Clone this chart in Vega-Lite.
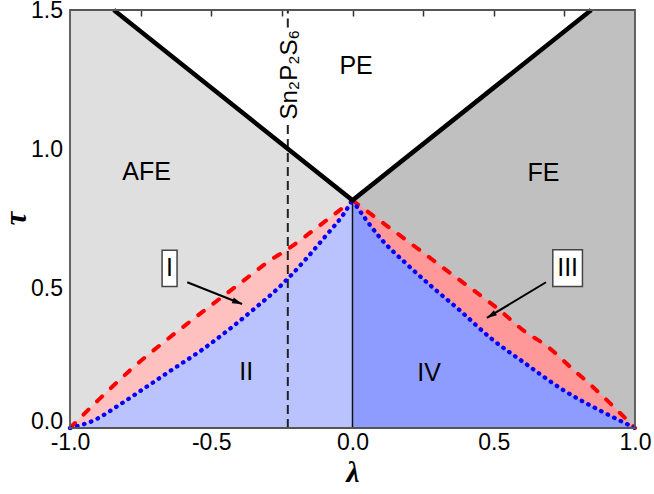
{
  "$schema": "https://vega.github.io/schema/vega-lite/v6.json",
  "autosize": {"type": "none"},
  "width": 565,
  "height": 418,
  "padding": {"left": 70, "top": 10, "right": 19, "bottom": 66},
  "background": "white",
  "config": {"view": {"stroke": null}},
  "datasets": {
    "gL": [{"lam": -1, "tau": 1.5}, {"lam": -0.845, "tau": 1.5}, {"lam": 0, "tau": 0.817}],
    "gR": [{"lam": 0, "tau": 0.817}, {"lam": 0.845, "tau": 1.5}, {"lam": 1, "tau": 1.5}],
    "redL": [{"lam": -1, "tau": 0}, {"lam": -0.898, "tau": 0.102}, {"lam": -0.792, "tau": 0.203}, {"lam": -0.574, "tau": 0.383}, {"lam": -0.474, "tau": 0.461}, {"lam": -0.373, "tau": 0.539}, {"lam": -0.297, "tau": 0.598}, {"lam": -0.232, "tau": 0.64}, {"lam": -0.12, "tau": 0.724}, {"lam": 0, "tau": 0.817}],
    "blueL": [{"lam": -1, "tau": 0}, {"lam": -0.91, "tau": 0.03}, {"lam": -0.833, "tau": 0.078}, {"lam": -0.745, "tau": 0.137}, {"lam": -0.639, "tau": 0.209}, {"lam": -0.532, "tau": 0.281}, {"lam": -0.438, "tau": 0.353}, {"lam": -0.344, "tau": 0.431}, {"lam": -0.262, "tau": 0.503}, {"lam": -0.226, "tau": 0.539}, {"lam": -0.167, "tau": 0.604}, {"lam": -0.096, "tau": 0.688}, {"lam": -0.037, "tau": 0.76}, {"lam": 0, "tau": 0.817}],
    "redR": [{"lam": 0, "tau": 0.817}, {"lam": 0.116, "tau": 0.73}, {"lam": 0.228, "tau": 0.646}, {"lam": 0.346, "tau": 0.556}, {"lam": 0.458, "tau": 0.472}, {"lam": 0.511, "tau": 0.431}, {"lam": 0.617, "tau": 0.341}, {"lam": 0.682, "tau": 0.299}, {"lam": 0.782, "tau": 0.209}, {"lam": 0.835, "tau": 0.162}, {"lam": 0.929, "tau": 0.072}, {"lam": 1, "tau": 0}],
    "blueR": [{"lam": 0, "tau": 0.817}, {"lam": 0.05, "tau": 0.745}, {"lam": 0.1, "tau": 0.68}, {"lam": 0.19, "tau": 0.59}, {"lam": 0.28, "tau": 0.508}, {"lam": 0.38, "tau": 0.422}, {"lam": 0.49, "tau": 0.322}, {"lam": 0.61, "tau": 0.233}, {"lam": 0.74, "tau": 0.14}, {"lam": 0.87, "tau": 0.066}, {"lam": 0.95, "tau": 0.025}, {"lam": 1, "tau": 0}],
    "pb": [{"lam": -0.845, "tau": 1.5}, {"lam": 0, "tau": 0.817}, {"lam": 0.845, "tau": 1.5}],
    "snLine": [{"lam": -0.229, "tau": 0, "tau2": 1.097}, {"lam": -0.229, "tau": 1.437, "tau2": 1.5}],
    "zeroLine": [{"lam": 0, "tau": 0, "tau2": 0.817}],
    "boxes": [{"lam": -0.674, "lam2": -0.621, "tau": 0.508, "tau2": 0.638}, {"lam": 0.709, "lam2": 0.814, "tau": 0.508, "tau2": 0.64}],
    "arrows": [{"lam": -0.585, "tau": 0.523, "lam2": -0.391, "tau2": 0.445}, {"lam": 0.685, "tau": 0.523, "lam2": 0.4755, "tau2": 0.395}],
    "headI": [{"lam": -0.391, "tau": 0.445}],
    "headIII": [{"lam": 0.4755, "tau": 0.395}],
    "labels": [
      {"lam": -0.729, "tau": 0.918, "text": "AFE"},
      {"lam": 0.0126, "tau": 1.3, "text": "PE"},
      {"lam": 0.676, "tau": 0.915, "text": "FE"},
      {"lam": -0.376, "tau": 0.2, "text": "II"},
      {"lam": 0.271, "tau": 0.199, "text": "IV"},
      {"lam": -0.6475, "tau": 0.573, "text": "I"},
      {"lam": 0.7615, "tau": 0.574, "text": "III"}
    ],
    "sn": [{"lam": -0.195, "tau": 1.268, "text": "Sn₂P₂S₆"}],
    "frame": [{"lam": -1, "lam2": 1, "tau": 0, "tau2": 1.5}]
  },
  "resolve": {"axis": {"x": "independent", "y": "independent"}},
  "layer": [
    {
      "data": {"name": "gL"},
      "mark": {"type": "area", "color": "#DFDFDF", "opacity": 1},
      "encoding": {
        "x": {"field": "lam", "type": "quantitative", "scale": {"domain": [-1, 1], "nice": false, "zero": false},
          "axis": {"orient": "bottom", "values": [-1, -0.5, 0, 0.5, 1], "labelExpr": "datum.value < 0 ? '-' + format(abs(datum.value), '.1f') : format(datum.value, '.1f')", "ticks": false, "domain": false, "grid": false, "labelFont": "Liberation Sans", "labelFontSize": 23, "labelColor": "black", "labelPadding": 3, "labelFlush": false, "labelOverlap": false,
            "title": "λ", "titleFont": "Liberation Serif", "titleFontStyle": "italic", "titleFontWeight": "bold", "titleFontSize": 30, "titleColor": "black", "titleY": 53, "titleBaseline": "alphabetic"}},
        "y": {"field": "tau", "type": "quantitative", "stack": null, "scale": {"domain": [0, 1.5], "nice": false},
          "axis": {"orient": "left", "values": [0, 0.5, 1, 1.5], "format": ".1f", "ticks": false, "domain": false, "grid": false, "labelFont": "Liberation Sans", "labelFontSize": 23, "labelColor": "black", "labelPadding": 7.5, "labelFlush": false, "labelOverlap": false,
            "labelBaseline": {"condition": {"test": "datum.value === 0", "value": "alphabetic"}, "value": "middle"},
            "title": "τ", "titleFont": "Liberation Serif", "titleFontStyle": "italic", "titleFontWeight": "bold", "titleFontSize": 31, "titleColor": "black", "titleAngle": 270, "titleX": -44.5, "titleY": 208, "titleAlign": "center", "titleBaseline": "alphabetic"}}
      }
    },
    {
      "data": {"name": "gR"},
      "mark": {"type": "area", "color": "#C0C0C0", "opacity": 1},
      "encoding": {
        "x": {"field": "lam", "type": "quantitative", "axis": {"orient": "top", "values": [-0.75, -0.5, -0.25, 0, 0.25, 0.5, 0.75], "labels": false, "domain": false, "grid": false, "tickSize": -6, "tickColor": "#333", "tickWidth": 1.5, "title": null}},
        "y": {"field": "tau", "type": "quantitative", "stack": null, "axis": null}
      }
    },
    {
      "data": {"name": "redL"},
      "mark": {"type": "area", "color": "#FFC0C0", "opacity": 1, "interpolate": "monotone"},
      "encoding": {"x": {"field": "lam", "type": "quantitative", "axis": null}, "y": {"field": "tau", "type": "quantitative", "stack": null, "axis": null}}
    },
    {
      "data": {"name": "redR"},
      "mark": {"type": "area", "color": "#FF9999", "opacity": 1, "interpolate": "monotone"},
      "encoding": {"x": {"field": "lam", "type": "quantitative", "axis": null}, "y": {"field": "tau", "type": "quantitative", "stack": null, "axis": null}}
    },
    {
      "data": {"name": "blueL"},
      "mark": {"type": "area", "color": "#BBC3FF", "opacity": 1, "interpolate": "monotone"},
      "encoding": {"x": {"field": "lam", "type": "quantitative", "axis": null}, "y": {"field": "tau", "type": "quantitative", "stack": null, "axis": null}}
    },
    {
      "data": {"name": "blueR"},
      "mark": {"type": "area", "color": "#8F9CFF", "opacity": 1, "interpolate": "monotone"},
      "encoding": {"x": {"field": "lam", "type": "quantitative", "axis": null}, "y": {"field": "tau", "type": "quantitative", "stack": null, "axis": null}}
    },
    {
      "data": {"name": "snLine"},
      "mark": {"type": "rule", "color": "#222", "strokeWidth": 2, "strokeDash": [9, 5]},
      "encoding": {"x": {"field": "lam", "type": "quantitative", "axis": null}, "y": {"field": "tau", "type": "quantitative", "axis": null}, "y2": {"field": "tau2"}}
    },
    {
      "data": {"name": "zeroLine"},
      "mark": {"type": "rule", "color": "#111", "strokeWidth": 1.5},
      "encoding": {"x": {"field": "lam", "type": "quantitative", "axis": null}, "y": {"field": "tau", "type": "quantitative", "axis": null}, "y2": {"field": "tau2"}}
    },
    {
      "data": {"name": "redL"},
      "mark": {"type": "line", "color": "#FF0000", "strokeWidth": 4, "strokeDash": [7, 12], "strokeCap": "round", "interpolate": "monotone"},
      "encoding": {"x": {"field": "lam", "type": "quantitative", "axis": null}, "y": {"field": "tau", "type": "quantitative", "axis": null}}
    },
    {
      "data": {"name": "redR"},
      "mark": {"type": "line", "color": "#FF0000", "strokeWidth": 4, "strokeDash": [7, 12], "strokeCap": "round", "interpolate": "monotone"},
      "encoding": {"x": {"field": "lam", "type": "quantitative", "axis": null}, "y": {"field": "tau", "type": "quantitative", "axis": null}}
    },
    {
      "data": {"name": "blueL"},
      "mark": {"type": "line", "color": "#0000FF", "strokeWidth": 4.3, "strokeDash": [0.5, 6.8], "strokeCap": "round", "interpolate": "monotone"},
      "encoding": {"x": {"field": "lam", "type": "quantitative", "axis": null}, "y": {"field": "tau", "type": "quantitative", "axis": null}}
    },
    {
      "data": {"name": "blueR"},
      "mark": {"type": "line", "color": "#0000FF", "strokeWidth": 4.3, "strokeDash": [0.5, 6.8], "strokeCap": "round", "interpolate": "monotone"},
      "encoding": {"x": {"field": "lam", "type": "quantitative", "axis": null}, "y": {"field": "tau", "type": "quantitative", "axis": null}}
    },
    {
      "data": {"name": "pb"},
      "mark": {"type": "line", "color": "black", "strokeWidth": 4.5, "strokeJoin": "miter"},
      "encoding": {"x": {"field": "lam", "type": "quantitative", "axis": null}, "y": {"field": "tau", "type": "quantitative", "axis": null}}
    },
    {
      "data": {"name": "boxes"},
      "mark": {"type": "rect", "fill": "white", "stroke": "#444", "strokeWidth": 1.5},
      "encoding": {"x": {"field": "lam", "type": "quantitative", "axis": null}, "x2": {"field": "lam2"}, "y": {"field": "tau", "type": "quantitative", "axis": null}, "y2": {"field": "tau2"}}
    },
    {
      "data": {"name": "arrows"},
      "mark": {"type": "rule", "color": "black", "strokeWidth": 2},
      "encoding": {"x": {"field": "lam", "type": "quantitative", "axis": null}, "x2": {"field": "lam2"}, "y": {"field": "tau", "type": "quantitative", "axis": null}, "y2": {"field": "tau2"}}
    },
    {
      "data": {"name": "headI"},
      "mark": {"type": "point", "shape": "M0,0L-2,-0.6L-2,0.6Z", "size": 100, "angle": 21.4, "filled": true, "color": "black", "opacity": 1, "strokeWidth": 0},
      "encoding": {"x": {"field": "lam", "type": "quantitative", "axis": null}, "y": {"field": "tau", "type": "quantitative", "axis": null}}
    },
    {
      "data": {"name": "headIII"},
      "mark": {"type": "point", "shape": "M0,0L-2,-0.6L-2,0.6Z", "size": 100, "angle": 149, "filled": true, "color": "black", "opacity": 1, "strokeWidth": 0},
      "encoding": {"x": {"field": "lam", "type": "quantitative", "axis": null}, "y": {"field": "tau", "type": "quantitative", "axis": null}}
    },
    {
      "data": {"name": "labels"},
      "mark": {"type": "text", "font": "Liberation Sans", "fontSize": 25, "color": "black", "align": "center", "baseline": "middle"},
      "encoding": {"x": {"field": "lam", "type": "quantitative", "axis": null}, "y": {"field": "tau", "type": "quantitative", "axis": null}, "text": {"field": "text"}}
    },
    {
      "data": {"name": "sn"},
      "mark": {"type": "text", "font": "Liberation Sans", "fontSize": 24, "color": "black", "align": "center", "baseline": "alphabetic", "angle": 270},
      "encoding": {"x": {"field": "lam", "type": "quantitative", "axis": null}, "y": {"field": "tau", "type": "quantitative", "axis": null}, "text": {"field": "text"}}
    },
    {
      "data": {"name": "frame"},
      "mark": {"type": "rect", "fill": null, "fillOpacity": 0, "stroke": "#555", "strokeWidth": 1.8},
      "encoding": {"x": {"field": "lam", "type": "quantitative", "axis": null}, "x2": {"field": "lam2"}, "y": {"field": "tau", "type": "quantitative", "axis": null}, "y2": {"field": "tau2"}}
    }
  ]
}
